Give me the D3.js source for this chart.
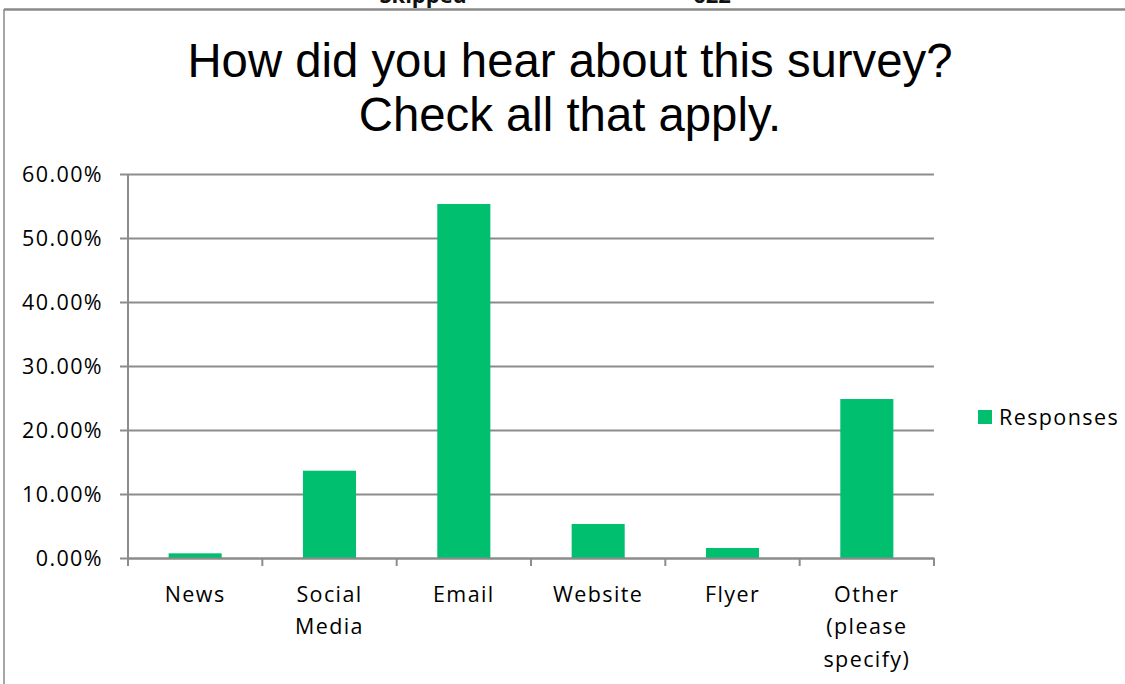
<!DOCTYPE html>
<html>
<head>
<meta charset="utf-8">
<script src="https://d3js.org/d3.v7.min.js"></script>
<style>
  html, body { margin: 0; padding: 0; background: #fff; }
  svg { display: block; }
</style>
</head>
<body>
<svg id="chart" width="1125" height="684"></svg>
<script>
const categories = ["News", "Social Media", "Email", "Website", "Flyer", "Other (please specify)"];
const categoryLines = [["News"], ["Social", "Media"], ["Email"], ["Website"], ["Flyer"], ["Other", "(please", "specify)"]];
const responses = [0.0073, 0.1364, 0.5531, 0.0531, 0.0156, 0.2484];
const yTicks = [0, 0.1, 0.2, 0.3, 0.4, 0.5, 0.6];
const seriesName = "Responses";
const titleLines = ["How did you hear about this survey?", "Check all that apply."];
const topTexts = [{ text: "Skipped", x: 423 }, { text: "622", x: 712 }];

(function () {
const W = 1125, H = 684;
const svg = d3.select("#chart");
const green = "#00BF6F";
const grid = "#8c8c8c";
const labelFont = "'Open Sans', 'Noto Sans', sans-serif";
const labelSize = 21.5;
const labelSpacing = 1.4;

const pLeft = 128, pRight = 934, pTop = 174, pBottom = 558;

const x = d3.scaleBand().domain(categories).range([pLeft, pRight]).paddingInner(0.605).paddingOuter(0.3025);
const xOuter = d3.scaleBand().domain(categories).range([pLeft, pRight]).padding(0);
const y = d3.scaleLinear().domain([0, 0.6]).range([pBottom, pTop]);

// cut-off header text (the reference shows only its lower edge)
svg.selectAll("text.topt").data(topTexts).enter().append("text")
  .attr("x", d => d.x).attr("y", 3)
  .attr("text-anchor", "middle")
  .attr("font-family", labelFont).attr("font-weight", "bold").attr("font-size", 22)
  .attr("fill", "#111").text(d => d.text);

// frame
svg.append("line").attr("x1", 4).attr("x2", W).attr("y1", 9.5).attr("y2", 9.5)
  .attr("stroke", "#8a8a8a").attr("stroke-width", 2.5);
svg.append("line").attr("x1", 4).attr("x2", 4).attr("y1", 9).attr("y2", H)
  .attr("stroke", "#8a8a8a").attr("stroke-width", 1.5);

// title
svg.append("text").attr("x", 570).attr("y", 77)
  .attr("text-anchor", "middle")
  .attr("font-family", "'Liberation Sans', Arial, sans-serif").attr("font-size", 47.3)
  .attr("fill", "#000")
  .selectAll("tspan").data(titleLines).enter().append("tspan")
  .attr("x", 570).attr("dy", (d, i) => i === 0 ? 0 : 53.5).text(d => d);

// gridlines
const yAxis = d3.axisLeft(y).tickValues(yTicks).tickSize(-(pRight - pLeft)).tickFormat(d3.format(".2%")).tickPadding(25);
const gy = svg.append("g").attr("transform", `translate(${pLeft},0)`).call(yAxis);
gy.select(".domain").remove();
gy.selectAll(".tick line").attr("stroke", grid).attr("stroke-width", 2).attr("x1", -8);
gy.selectAll(".tick text").attr("font-family", labelFont).attr("font-size", labelSize)
  .attr("letter-spacing", labelSpacing).attr("fill", "#000").attr("dy", "0.36em");

// y axis line
svg.append("line").attr("x1", pLeft).attr("x2", pLeft).attr("y1", pTop).attr("y2", pBottom + 8)
  .attr("stroke", grid).attr("stroke-width", 2);

// bars
svg.selectAll("rect.bar").data(categories).enter().append("rect")
  .attr("class", "bar")
  .attr("x", d => x(d)).attr("width", x.bandwidth())
  .attr("y", (d, i) => y(responses[i])).attr("height", (d, i) => y(0) - y(responses[i]))
  .attr("fill", green);

// x axis
const xAxis = d3.axisBottom(xOuter).tickSize(0).tickFormat("");
const gx = svg.append("g").attr("transform", `translate(0,${pBottom})`).call(xAxis);
gx.select(".domain").attr("stroke", grid).attr("stroke-width", 2);
gx.selectAll(".tick").remove();
const bounds = categories.map(c => xOuter(c)).concat([pRight]);
svg.selectAll("line.xtick").data(bounds).enter().append("line")
  .attr("x1", d => d).attr("x2", d => d).attr("y1", pBottom).attr("y2", pBottom + 8)
  .attr("stroke", grid).attr("stroke-width", 2);

// x labels
const xl = svg.selectAll("text.xl").data(categories).enter().append("text")
  .attr("text-anchor", "middle")
  .attr("font-family", labelFont).attr("font-size", labelSize).attr("letter-spacing", labelSpacing)
  .attr("fill", "#000")
  .attr("transform", d => `translate(${x(d) + x.bandwidth() / 2},602)`);
xl.selectAll("tspan").data((d, i) => categoryLines[i]).enter().append("tspan")
  .attr("x", 0).attr("y", (d, i) => i * 32.3).text(d => d);

// legend
svg.append("rect").attr("x", 978).attr("y", 410).attr("width", 14).attr("height", 14).attr("fill", green);
svg.append("text").attr("x", 999).attr("y", 425)
  .attr("font-family", labelFont).attr("font-size", labelSize).attr("letter-spacing", labelSpacing)
  .attr("fill", "#000").text(seriesName);
})();
</script>
</body>
</html>
